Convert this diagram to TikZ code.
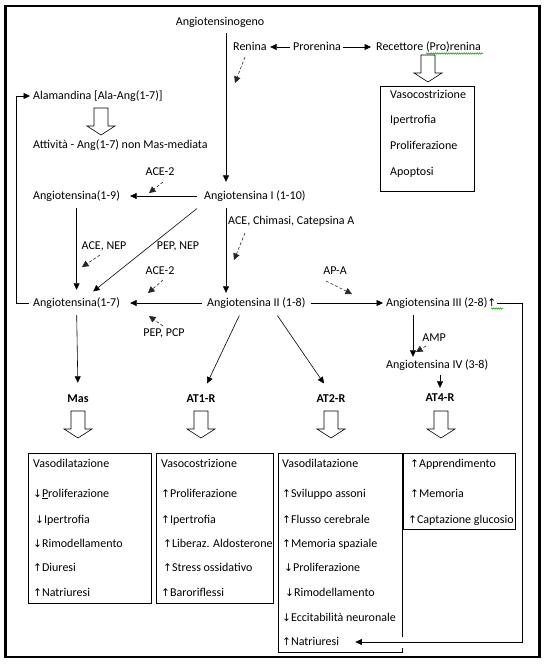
\documentclass[tikz,border=0pt]{standalone}
\usepackage{fontspec}
\setmainfont{Carlito}
\newfontfamily\arrfont{DejaVu Sans}[Scale=0.88]
\usetikzlibrary{arrows.meta,calc,decorations.pathmorphing}
\newcommand{\myup}{{\arrfont ↑}}
\newcommand{\mydown}{{\arrfont ↓}}
\tikzset{
  txt/.style={inner sep=0pt, text height=8.3pt, text depth=2.3pt, font=\fontsize{12}{14}\selectfont},
  tw/.style={txt, anchor=west},
  bold/.style={txt, font=\fontsize{12}{14}\selectfont\bfseries},
  arr/.style={line width=0.6pt, -{Triangle[length=6.5pt,width=6pt]}},
  darr/.style={line width=0.6pt, black!85, dash pattern=on 3pt off 2pt, -{Triangle[length=6.5pt,width=6.5pt]}},
  thinbox/.style={line width=0.7pt},
  spell/.style={green!60!black, line width=0.5pt, decorate, decoration={snake, amplitude=0.8pt, segment length=2.2pt}},
  blockarrow/.pic={\draw[line width=0.6pt, fill=white] (-7,0) -- (7,0) -- (7,18) -- (14,18) -- (0,27) -- (-14,18) -- (-7,18) -- cycle;}
}
\begin{document}
\begin{tikzpicture}[x=1pt,y=-1pt]
\useasboundingbox (0,0) rectangle (545,664);
\draw[line width=2.5pt] (5.5,6) rectangle (539.5,657);

% ---- main nodes
\node[txt] (ag) at (220,22) {Angiotensinogeno};
\node[tw] (ren) at (233,47) {Renina};
\node[tw] (pro) at (293,47) {Prorenina};
\node[tw] (rec) at (376,47) {Recettore (Pro)renina};
\node[tw] (ala) at (33,96) {Alamandina [Ala-Ang(1-7)]};
\node[tw] (att) at (33,145) {Attività - Ang(1-7) non Mas-mediata};
\node[tw] (a19) at (33,196) {Angiotensina(1-9)};
\node[tw] (a1) at (204,196) {Angiotensina I (1-10)};
\node[tw] (a17) at (33,303) {Angiotensina(1-7)};
\node[tw] (a2) at (207,303) {Angiotensina II (1-8)};
\node[tw] (a3) at (386,303) {Angiotensina III (2-8)\myup};
\node[tw] (a4) at (386,365) {Angiotensina IV (3-8)};
\node[bold] (mas) at (78,399) {Mas};
\node[bold] (at1) at (201,399) {AT1-R};
\node[bold] (at2) at (331,399) {AT2-R};
\node[bold] (at4) at (440,398) {AT4-R};

% ---- enzyme labels
\node[txt] (eace2a) at (160,172) {ACE-2};
\node[txt] (eacenep) at (104,246) {ACE, NEP};
\node[txt] (epepnep) at (178,246) {PEP, NEP};
\node[tw] (echim) at (228,221) {ACE, Chimasi, Catepsina A};
\node[txt] (eace2b) at (160,271) {ACE-2};
\node[txt] (eapa) at (335,271) {AP-A};
\node[txt] (epcp) at (164,333) {PEP, PCP};
\node[txt] (eamp) at (434,338) {AMP};

% ---- spell-check underlines
\draw[spell] (426,53.5) -- (483,53.5);
\draw[spell] (491,308.5) -- (503,308.5);

% ---- Recettore box
\pic at (428,55) {blockarrow};
\draw[thinbox] (380,86) rectangle (474,191);
\node[tw] (r1) at (390,95) {Vasocostrizione};
\node[tw] (r2) at (390,120) {Ipertrofia};
\node[tw] (r3) at (390,146) {Proliferazione};
\node[tw] (r4) at (390,172) {Apoptosi};

% ---- Alamandina
\pic at (101,108) {blockarrow};

% ---- connectors
\coordinate (v1) at (226,0);
\coordinate (v3) at (413,0);
\coordinate (rl) at (522,0);
\draw[arr, shorten <=5.7pt, shorten >=8.7pt] (ag.south -| v1) -- (a1.north -| v1);
\draw[arr, shorten <=3pt, shorten >=3.4pt] (pro.west) -- (ren.east);
\draw[arr, shorten <=2pt, shorten >=5pt] (pro.east) -- (rec.west);
\draw[arr, shorten <=4pt, shorten >=3pt] (a17.west) -- ++(-17,0) |- (ala.west);
\draw[arr, shorten <=7pt, shorten >=10pt] (a1.west) -- (a19.east);
\draw[arr, shorten <=6.7pt, shorten >=7.7pt] (a19.south) -- (a17.north);
\draw[arr] ($(a1.south west)+(-7,7)$) -- ($(a17.north east)+(-27,-6)$);
\draw[arr, shorten <=6.7pt, shorten >=4.7pt] (a1.south -| v1) -- (a2.north -| v1);
\draw[arr, shorten <=5pt, shorten >=10pt] (a2.west) -- (a17.east);
\draw[arr, shorten <=5pt, shorten >=3pt] (a2.east) -- (a3.west);
\draw[arr, shorten <=6.7pt, shorten >=2.7pt] (a3.south -| v3) -- (a4.north -| v3);
\draw[arr, shorten <=4.7pt, shorten >=4.7pt] (a4.south -| at4) -- (at4.north);
\draw[arr, shorten <=6.7pt, shorten >=10.7pt] (a17.south) -- (mas.north);
\draw[arr] ($(a2.south)+(-17,7)$) -- ($(at1.north)+(6,-10)$);
\draw[arr] ($(a2.south)+(21,7)$) -- ($(at2.north)+(-7,-10)$);

% ---- dashed enzyme arrows
\coordinate (d1a) at (245,57);  \coordinate (d1b) at (235,83);
\coordinate (d2a) at (163,182); \coordinate (d2b) at (149,193);
\coordinate (d3a) at (100,255); \coordinate (d3b) at (82,267);
\coordinate (d4a) at (245,233); \coordinate (d4b) at (234,260);
\coordinate (d5a) at (163,280); \coordinate (d5b) at (148,293);
\coordinate (d6a) at (326,281); \coordinate (d6b) at (352,294);
\coordinate (d7a) at (163,326); \coordinate (d7b) at (149,316);
\coordinate (d8a) at (426,346); \coordinate (d8b) at (416,352);
\draw[darr] (d1a) -- (d1b);
\draw[darr] (d2a) -- (d2b);
\draw[darr] (d3a) -- (d3b);
\draw[darr] (d4a) -- (d4b);
\draw[darr] (d5a) -- (d5b);
\draw[darr] (d6a) -- (d6b);
\draw[darr] (d7a) -- (d7b);
\draw[darr] (d8a) -- (d8b);

% ---- receptor block arrows
\pic at (78,411) {blockarrow};
\pic at (201,411) {blockarrow};
\pic at (331,411) {blockarrow};
\pic at (441,411) {blockarrow};

% ---- Mas box
\draw[thinbox] (28,453) rectangle (151,603);
\node[tw] (m1) at (33,464) {Vasodilatazione};
\node[tw] (m2) at (33,494) {\mydown\underline{P}roliferazione};
\node[tw] (m3) at (33,520) {\hspace{2pt}\mydown Ipertrofia};
\node[tw] (m4) at (33,544) {\mydown Rimodellamento};
\node[tw] (m5) at (33,568) {\myup Diuresi};
\node[tw] (m6) at (33,593) {\myup Natriuresi};

% ---- AT1 box
\draw[thinbox] (156,453) rectangle (273,603);
\node[tw] (t1) at (161,464) {Vasocostrizione};
\node[tw] (t2) at (161,494) {\myup Proliferazione};
\node[tw] (t3) at (161,520) {\myup Ipertrofia};
\node[tw] (t4) at (161,544) {\hspace{2pt}\myup Liberaz. Aldosterone};
\node[tw] (t5) at (161,568) {\hspace{2pt}\myup Stress ossidativo};
\node[tw] (t6) at (161,593) {\myup Baroriflessi};

% ---- AT2 box (right edge interrupted by the incoming arrow)
\draw[thinbox] (402,637) -- (402,453) -- (278,453) -- (278,652) -- (402,652) -- (402,648);
\node[tw] (s1) at (282,464) {Vasodilatazione};
\node[tw] (s2) at (282,494) {\myup Sviluppo assoni};
\node[tw] (s3) at (282,520) {\myup Flusso cerebrale};
\node[tw] (s4) at (282,544) {\myup Memoria spaziale};
\node[tw] (s5) at (282,568) {\hspace{2pt}\mydown Proliferazione};
\node[tw] (s6) at (282,593) {\hspace{3pt}\mydown Rimodellamento};
\node[tw] (s7) at (282,618) {\mydown Eccitabilità neuronale};
\node[tw] (s8) at (282,642) {\myup Natriuresi};

% ---- AT4 box
\draw[thinbox] (403,453) rectangle (515,529);
\node[tw] (f1) at (408,464) {\hspace{2pt}\myup Apprendimento};
\node[tw] (f2) at (408,494) {\hspace{2pt}\myup Memoria};
\node[tw] (f3) at (408,520) {\myup Captazione glucosio};

% ---- loop from Angiotensina III to Natriuresi
\draw[arr, shorten >=16pt] (a3.east) -- (a3.east -| rl) |- (s8.east);
\end{tikzpicture}
\end{document}
